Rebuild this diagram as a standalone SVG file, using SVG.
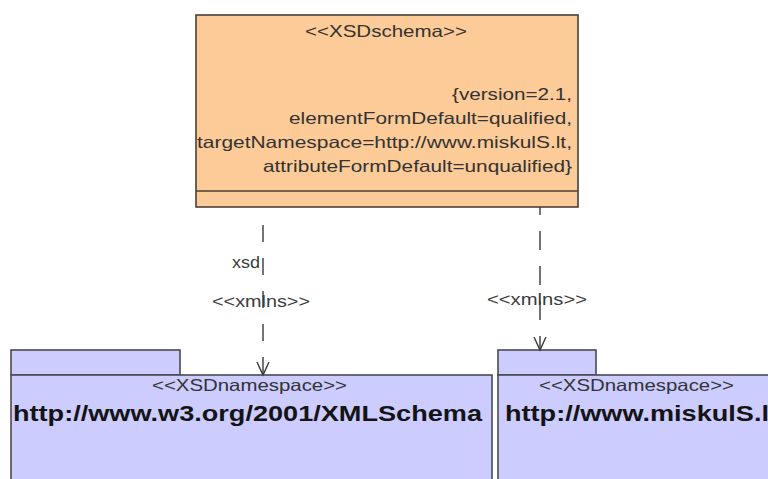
<svg xmlns="http://www.w3.org/2000/svg" width="768" height="479" viewBox="0 0 768 479">
  <style>
    .txt { font-family: "Liberation Sans", Arial, sans-serif; font-size: 16.5px; fill: #333333; }
    .lbl { font-family: "Liberation Sans", Arial, sans-serif; font-size: 16px; fill: #3c3c3c; }
    .big { font-family: "Liberation Sans", Arial, sans-serif; font-size: 22px; font-weight: bold; fill: #141414; }
    .schema { fill: #FDCB98; stroke: #4a4038; stroke-width: 1.6; }
    .pkg { fill: #CCCCFF; stroke: #4a4a55; stroke-width: 1.6; }
    .dep { fill: none; stroke: #3a3a3a; stroke-width: 1.4; }
    .head { fill: none; stroke: #3a3a3a; stroke-width: 1.4; }
  </style>
  <rect x="0" y="0" width="768" height="479" fill="#ffffff"/>

  <!-- schema class -->
  <g id="schema">
    <rect class="schema" x="196" y="15" width="382" height="192"/>
    <line class="schema" x1="196" y1="191" x2="578" y2="191"/>
    <text class="txt" x="305" y="37" textLength="162" lengthAdjust="spacingAndGlyphs">&lt;&lt;XSDschema&gt;&gt;</text>
    <text class="txt" x="452" y="100" textLength="120" lengthAdjust="spacingAndGlyphs">{version=2.1,</text>
    <text class="txt" x="289" y="124" textLength="283" lengthAdjust="spacingAndGlyphs">elementFormDefault=qualified,</text>
    <text class="txt" x="197" y="148" textLength="375" lengthAdjust="spacingAndGlyphs">targetNamespace=http://www.miskulS.lt,</text>
    <text class="txt" x="263" y="172" textLength="309" lengthAdjust="spacingAndGlyphs">attributeFormDefault=unqualified}</text>
  </g>

  <!-- namespace packages -->
  <g id="ns-xmlschema">
    <rect class="pkg" x="11" y="350" width="169" height="25"/>
    <rect class="pkg" x="11" y="375" width="481" height="115"/>
    <text class="txt" x="152" y="391" textLength="195" lengthAdjust="spacingAndGlyphs">&lt;&lt;XSDnamespace&gt;&gt;</text>
    <text class="big" x="13" y="421" textLength="469" lengthAdjust="spacingAndGlyphs">http://www.w3.org/2001/XMLSchema</text>
  </g>

  <g id="ns-miskuls">
    <rect class="pkg" x="498" y="350" width="98" height="25"/>
    <rect class="pkg" x="498" y="375" width="290" height="115"/>
    <text class="txt" x="539" y="391" textLength="195" lengthAdjust="spacingAndGlyphs">&lt;&lt;XSDnamespace&gt;&gt;</text>
    <text class="big" x="505" y="421" textLength="273" lengthAdjust="spacingAndGlyphs">http://www.miskulS.lt</text>
  </g>

  <!-- dependencies -->
  <g id="connectors">
    <path class="dep" d="M263 225 V374" stroke-dasharray="17 16"/>
    <path class="head" d="M257 362 L263 375 L269 362"/>
    <text class="lbl" x="232" y="268" textLength="28" lengthAdjust="spacingAndGlyphs">xsd</text>
    <text class="lbl" x="212" y="307" textLength="98" lengthAdjust="spacingAndGlyphs">&lt;&lt;xmlns&gt;&gt;</text>

    <path class="dep" d="M540 207 V349" stroke-dasharray="19 16" stroke-dashoffset="11"/>
    <path class="head" d="M534 337 L540 350 L546 337"/>
    <text class="lbl" x="487" y="305" textLength="100" lengthAdjust="spacingAndGlyphs">&lt;&lt;xmlns&gt;&gt;</text>
  </g>
</svg>
